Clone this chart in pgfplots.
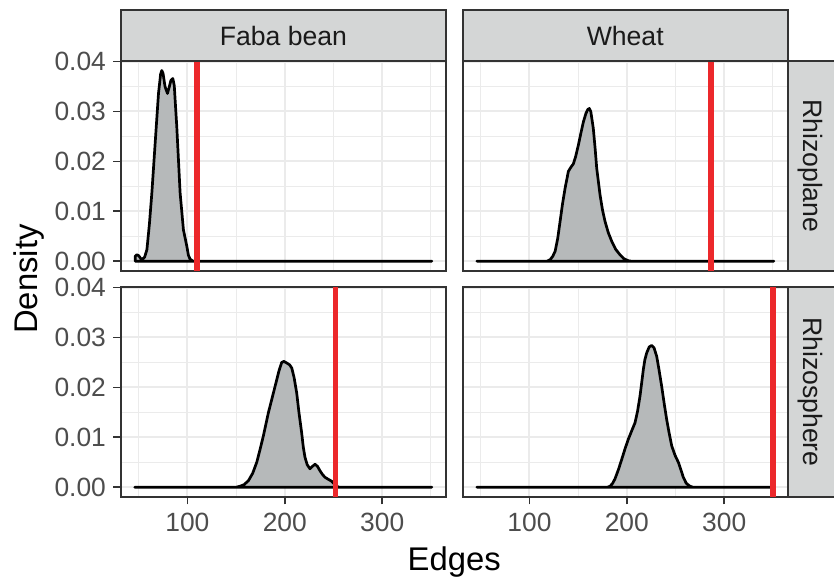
\documentclass[border=0pt]{standalone}
\usepackage{fontspec}
\setmainfont{Liberation Sans}
\usepackage{pgfplots}
\pgfplotsset{compat=1.18}
\definecolor{gridc}{RGB}{235,235,235}
\definecolor{borderc}{RGB}{51,51,51}
\definecolor{ticklabc}{RGB}{77,77,77}
\definecolor{stripc}{RGB}{212,214,214}
\definecolor{fillc}{RGB}{182,185,186}
\definecolor{redc}{RGB}{236,40,43}
\definecolor{stript}{RGB}{26,26,26}
\pgfplotsset{
  panel/.style={
    scale only axis, width=162.65pt, height=104.85pt,
    xmin=31.5, xmax=365.5, ymin=-0.0019, ymax=0.0401,
    xtick={100,200,300}, minor xtick={50,150,250,350},
    ytick={0,0.01,0.02,0.03,0.04}, minor ytick={0.005,0.015,0.025,0.035},
    scaled y ticks=false,
    grid=both,
    major grid style={draw=gridc, line width=1pt},
    minor grid style={draw=gridc, line width=0.5pt},
    minor tick length=0pt,
    major tick length=3.85pt,
    tick align=outside,
    axis line style={draw=borderc, line width=0.85pt},
    every tick/.style={draw=borderc, line width=0.85pt},
    ticklabel style={font=\fontsize{13.2}{15}\selectfont, text=ticklabc},
    xticklabel style={yshift=-1pt},
    /pgf/number format/assume math mode=true,
    yticklabel style={/pgf/number format/fixed, /pgf/number format/fixed zerofill, /pgf/number format/precision=2},
    xtick pos=bottom, ytick pos=left,
  },
  toprow/.style={xticklabels={}, xtick style={draw=none}},
  rightcol/.style={yticklabels={}, ytick style={draw=none}},
  dens/.style={fill=fillc, draw=black, line width=1.35pt, line join=round},
  vl/.style={draw=redc, line width=2.8pt},
}
\begin{document}
\begin{tikzpicture}
\useasboundingbox (0,0) rectangle (417pt,-289.5pt);
% Top-left: Faba bean, Rhizoplane
\begin{axis}[panel, toprow, at={(60.35pt,-135.35pt)}, anchor=south west]
\addplot[dens] coordinates {(46.4,0.0010) (48,0.0013) (50,0.0011) (53,0.0003) (56,0.0008) (58.4,0.0023) (61,0.0075) (63.5,0.0137) (66.9,0.0237) (70.3,0.0336) (72.5,0.0375) (73.7,0.0382) (75,0.0376) (77,0.0350) (79.5,0.0336) (81.5,0.0350) (83,0.0362) (85,0.0366) (86.5,0.0352) (87.8,0.0310) (89.1,0.0269) (92.5,0.0137) (95.9,0.0063) (99.4,0.0030) (101,0.0012) (102.8,0.0004) (106,0) (351,0)} \closedcycle;
\addplot[vl] coordinates {(109.6,-0.0019) (109.6,0.0401)};
\end{axis}
% Top-right: Wheat, Rhizoplane
\begin{axis}[panel, toprow, rightcol, at={(231.35pt,-135.35pt)}, anchor=south west]
\addplot[dens] coordinates {(46,0) (118,0) (121.2,0.0003) (124,0.0010) (126.4,0.0020) (129,0.0045) (131.5,0.0080) (134,0.0115) (136.6,0.0146) (140,0.0180) (142.5,0.0188) (145.1,0.0195) (147.5,0.0210) (150.3,0.0233) (153,0.0258) (155.4,0.0279) (158,0.0296) (160,0.0304) (161.5,0.0306) (163,0.0300) (165.6,0.0266) (167.5,0.0225) (169.1,0.0186) (172.5,0.0133) (175,0.0103) (177.6,0.0080) (181,0.0057) (184.5,0.0040) (188.5,0.0024) (193,0.0013) (197,0.0005) (201.5,0.0001) (205,0) (351,0)} \closedcycle;
\addplot[vl] coordinates {(286.4,-0.0019) (286.4,0.0401)};
\end{axis}
% Bottom-left: Faba bean, Rhizosphere
\begin{axis}[panel, at={(60.35pt,-248.35pt)}, anchor=south west]
\addplot[dens] coordinates {(46,0) (150,0) (154.1,0.0002) (158,0.0005) (162.6,0.0013) (167,0.0028) (171.2,0.0050) (174.5,0.0075) (178,0.0103) (183.1,0.0149) (190,0.0202) (194,0.0233) (196.8,0.0250) (199,0.0252) (201.9,0.0249) (205,0.0245) (207.1,0.0239) (209.5,0.0220) (212.2,0.0189) (214.5,0.0150) (217.3,0.0109) (219,0.0080) (220.7,0.0060) (223,0.0045) (225.8,0.0037) (228.5,0.0042) (231,0.0046) (233.5,0.0042) (236.1,0.0033) (238.5,0.0026) (241.2,0.0020) (244.5,0.0016) (248.1,0.0012) (250.5,0.0007) (253.2,0.0002) (256,0) (351,0)} \closedcycle;
\addplot[vl] coordinates {(252.2,-0.0019) (252.2,0.0401)};
\end{axis}
% Bottom-right: Wheat, Rhizosphere
\begin{axis}[panel, rightcol, at={(231.35pt,-248.35pt)}, anchor=south west]
\addplot[dens] coordinates {(46,0) (180,0) (182.8,0.0002) (185.5,0.0008) (187.9,0.0017) (191.5,0.0036) (194.8,0.0056) (198,0.0076) (201.5,0.0096) (205,0.0113) (208.4,0.0129) (211,0.0152) (213.5,0.0182) (215.2,0.0208) (216.9,0.0235) (218.5,0.0255) (220.4,0.0269) (223,0.0281) (225.5,0.0284) (228,0.0279) (230.7,0.0262) (233,0.0236) (235.8,0.0202) (238.5,0.0166) (240.9,0.0136) (243.5,0.0108) (246.1,0.0083) (249.5,0.0064) (252.9,0.0050) (255.5,0.0035) (258,0.0020) (261,0.0008) (264.8,0.0002) (268,0) (351,0)} \closedcycle;
\addplot[vl] coordinates {(350.3,-0.0019) (350.3,0.0401)};
\end{axis}
% strips
\draw[fill=stripc, draw=borderc, line width=0.85pt] (60.35pt,-5pt) rectangle (223pt,-30.5pt);
\draw[fill=stripc, draw=borderc, line width=0.85pt] (231.35pt,-5pt) rectangle (393.85pt,-30.5pt);
\draw[fill=stripc, draw=borderc, line width=0.85pt] (393.85pt,-30.5pt) rectangle (420pt,-135.35pt);
\draw[fill=stripc, draw=borderc, line width=0.85pt] (393.85pt,-143.65pt) rectangle (420pt,-248.35pt);
\node[text=stript, font=\fontsize{13.3}{15}\selectfont] at (141.7pt,-17.9pt) {Faba bean};
\node[text=stript, font=\fontsize{13.3}{15}\selectfont] at (312.6pt,-17.9pt) {Wheat};
\node[text=stript, font=\fontsize{13.3}{15}\selectfont, rotate=-90] at (405.25pt,-82.9pt) {Rhizoplane};
\node[text=stript, font=\fontsize{13.3}{15}\selectfont, rotate=-90] at (405.25pt,-196pt) {Rhizosphere};
% axis titles
\node[font=\fontsize{16.4}{19}\selectfont, rotate=90, anchor=base] at (18.6pt,-139.5pt) {Density};
\node[font=\fontsize{16.4}{19}\selectfont, anchor=base] at (227.1pt,-285pt) {Edges};
\end{tikzpicture}
\end{document}
